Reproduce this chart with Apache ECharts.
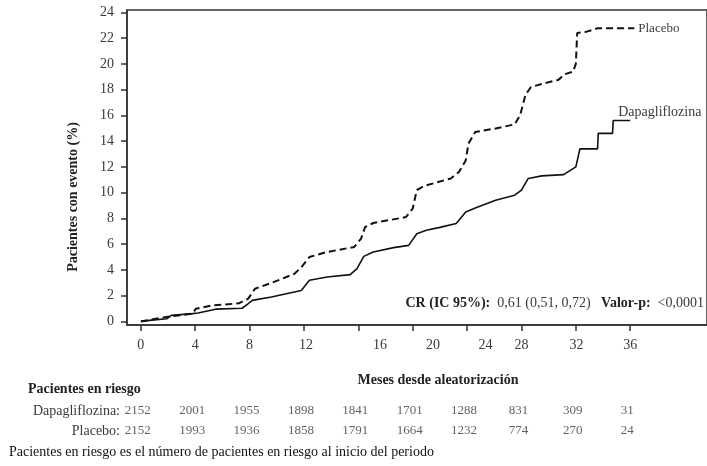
<!DOCTYPE html>
<html>
<head>
<meta charset="utf-8">
<script src="https://cdn.jsdelivr.net/npm/echarts@6/dist/echarts.min.js"></script>
<style>
    html, body { margin: 0; padding: 0; background: #fff; }
    #chart { width: 707px; height: 466px; }
</style>
</head>
<body>
<div id="chart"></div>
<script>
(function () {
    // curva acumulada (meses, %)
    var dapaMonths = [0, 0.8, 1.9, 2.25, 3.8, 4.2, 5.5, 7.45, 7.9, 8.2, 9.6, 11.8, 12.4, 13.7, 15.4, 15.9, 16.4, 17.1, 18.6, 19.7, 20.3, 21.0, 22.0, 23.2, 23.9, 24.6, 26.1, 27.5, 28.0, 28.5, 29.5, 31.1, 32.0, 32.3, 33.6, 33.65, 34.7, 34.75, 36.0];
    var dapaPct = [0, 0.1, 0.2, 0.47, 0.6, 0.65, 0.95, 1.02, 1.38, 1.63, 1.9, 2.4, 3.2, 3.45, 3.63, 4.1, 5.05, 5.39, 5.73, 5.9, 6.8, 7.08, 7.3, 7.6, 8.5, 8.8, 9.4, 9.8, 10.2, 11.1, 11.3, 11.4, 12.0, 13.4, 13.4, 14.6, 14.6, 15.6, 15.6];
    var placeboMonths = [0, 1.9, 3.8, 4.05, 5.27, 7.2, 7.9, 8.4, 9.6, 11.3, 11.8, 12.4, 13.7, 15.7, 16.2, 16.5, 17.1, 19.5, 20.0, 20.3, 20.8, 21.8, 22.8, 23.4, 23.9, 24.1, 24.6, 26.1, 27.5, 27.9, 28.3, 28.7, 29.7, 30.7, 31.2, 31.8, 32.0, 32.1, 32.8, 33.6, 36.3];
    var placeboPct = [0, 0.35, 0.6, 0.99, 1.24, 1.4, 1.77, 2.54, 2.98, 3.7, 4.2, 5.0, 5.39, 5.78, 6.43, 7.33, 7.64, 8.1, 8.76, 10.2, 10.5, 10.8, 11.1, 11.6, 12.5, 13.8, 14.7, 14.98, 15.3, 16.0, 17.6, 18.2, 18.5, 18.75, 19.2, 19.4, 20.0, 22.4, 22.5, 22.76, 22.76];

    // ejes
    var xTicks = [0, 4, 8, 12, 16, 20, 24, 28, 32, 36];
    var xTickNames = ['0', '4', '8', '12', '16', '20', '24', '28', '32', '36'];
    var xLabelAt = [0, 4, 8, 12.15, 17.6, 21.5, 25.35, 28, 32.05, 36];
    var yTicks = [0, 2, 4, 6, 8, 10, 12, 14, 16, 18, 20, 22, 24];

    // pacientes en riesgo
    var riskMonths = [0, 4, 8, 12, 16, 20, 24, 28, 32, 36];
    var riskGroups = ['Dapagliflozina:', 'Placebo:'];
    var riskDapa = [2152, 2001, 1955, 1898, 1841, 1701, 1288, 831, 309, 31];
    var riskPlacebo = [2152, 1993, 1936, 1858, 1791, 1664, 1232, 774, 270, 24];

    var serif = 'Liberation Serif';
    var textGray = '#3a3a3a';

    var zip = function (xs, ys) {
        return xs.map(function (x, i) { return [x, ys[i]]; });
    };
    var riskData = function (counts, group) {
        return counts.map(function (c, i) { return [riskMonths[i], group, c]; });
    };

    var chart = echarts.init(document.getElementById('chart'));
    var option = {
        animation: false,
        grid: [{
            left: 127,
            top: 10,
            right: -8,
            bottom: 141,
            show: true,
            borderColor: '#333',
            borderWidth: 1.5
        }, {
            left: 127,
            top: 401,
            right: -8,
            height: 40
        }],
        xAxis: [{
            gridIndex: 0,
            type: 'value',
            min: -1.02,
            max: 41.65,
            splitLine: { show: false },
            axisLine: { onZero: false, lineStyle: { color: '#333', width: 1.5 } },
            axisTick: {
                customValues: xTicks,
                length: 6,
                lineStyle: { color: '#333', width: 1.5 }
            },
            axisLabel: {
                customValues: xLabelAt,
                margin: 13,
                fontFamily: serif,
                fontSize: 14,
                color: textGray,
                formatter: function (v) {
                    var i = xLabelAt.indexOf(v);
                    return i < 0 ? '' : xTickNames[i];
                }
            }
        }, {
            gridIndex: 1,
            type: 'value',
            min: -1.02,
            max: 41.65,
            show: false
        }],
        yAxis: [{
            gridIndex: 0,
            type: 'value',
            min: -0.28,
            max: 24.18,
            splitLine: { show: false },
            axisLine: { show: true, onZero: false, lineStyle: { color: '#333', width: 1.5 } },
            axisTick: {
                show: true,
                customValues: yTicks,
                length: 6,
                lineStyle: { color: '#333', width: 1.5 }
            },
            axisLabel: {
                customValues: yTicks,
                margin: 13,
                fontFamily: serif,
                fontSize: 14,
                color: textGray
            }
        }, {
            gridIndex: 1,
            type: 'category',
            inverse: true,
            data: riskGroups,
            axisLine: { show: false },
            axisTick: { show: false },
            axisLabel: {
                margin: 7,
                fontFamily: serif,
                fontSize: 14,
                color: textGray
            }
        }],
        series: [{
            name: 'Placebo',
            type: 'line',
            xAxisIndex: 0,
            yAxisIndex: 0,
            data: zip(placeboMonths, placeboPct),
            showSymbol: false,
            lineStyle: { color: '#111', width: 2, type: [7, 4] },
            endLabel: {
                show: true,
                formatter: 'Placebo',
                distance: 4,
                fontFamily: serif,
                fontSize: 13,
                color: textGray
            }
        }, {
            name: 'Dapagliflozina',
            type: 'line',
            xAxisIndex: 0,
            yAxisIndex: 0,
            data: zip(dapaMonths, dapaPct),
            showSymbol: false,
            lineStyle: { color: '#111', width: 1.6 },
            endLabel: {
                show: true,
                formatter: 'Dapagliflozina',
                offset: [-20, -8],
                fontFamily: serif,
                fontSize: 14,
                color: textGray
            }
        }, {
            type: 'scatter',
            xAxisIndex: 1,
            yAxisIndex: 1,
            data: riskData(riskDapa, riskGroups[0]).concat(riskData(riskPlacebo, riskGroups[1])),
            symbolSize: 1,
            itemStyle: { color: 'rgba(0,0,0,0)' },
            label: {
                show: true,
                position: 'inside',
                offset: [-3, 0],
                fontFamily: serif,
                fontSize: 13,
                color: textGray,
                formatter: function (p) { return p.value[2]; }
            }
        }],
        graphic: [{
            type: 'text',
            x: 73,
            y: 197,
            rotation: Math.PI / 2,
            style: {
                text: 'Pacientes con evento (%)',
                font: 'bold 14px "Liberation Serif"',
                fill: '#222',
                align: 'center',
                verticalAlign: 'middle'
            }
        }, {
            type: 'text',
            x: 438,
            y: 380,
            style: {
                text: 'Meses desde aleatorización',
                font: 'bold 14px "Liberation Serif"',
                fill: '#222',
                align: 'center',
                verticalAlign: 'middle'
            }
        }, {
            type: 'text',
            x: 704,
            y: 303,
            style: {
                text: '{b|CR (IC 95%):}  0,61 (0,51, 0,72)   {b|Valor-p:}  <0,0001',
                font: '14px "Liberation Serif"',
                fill: textGray,
                align: 'right',
                verticalAlign: 'middle',
                rich: {
                    b: { fontFamily: serif, fontSize: 14, fontWeight: 'bold', fill: '#222' }
                }
            }
        }, {
            type: 'text',
            x: 28,
            y: 389,
            style: {
                text: 'Pacientes en riesgo',
                font: 'bold 14px "Liberation Serif"',
                fill: '#222',
                verticalAlign: 'middle'
            }
        }, {
            type: 'text',
            x: 9,
            y: 452,
            style: {
                text: 'Pacientes en riesgo es el número de pacientes en riesgo al inicio del periodo',
                font: '14px "Liberation Serif"',
                fill: '#111',
                verticalAlign: 'middle'
            }
        }]
    };
    chart.setOption(option);

    window.addEventListener('resize', function () {
        chart.resize();
    });
})();
</script>
</body>
</html>
